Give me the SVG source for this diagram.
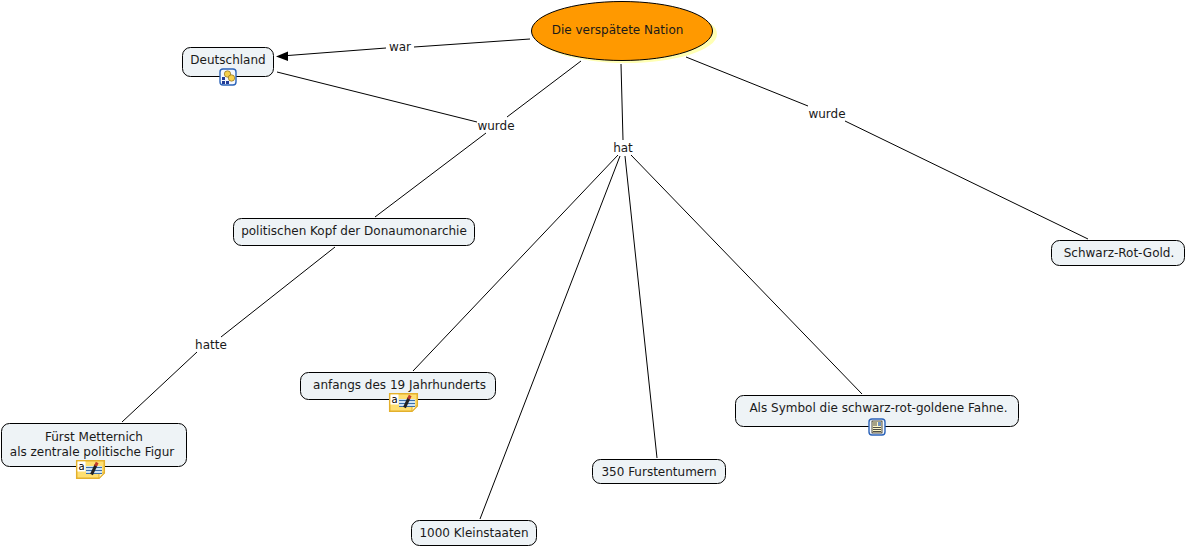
<svg xmlns="http://www.w3.org/2000/svg" width="1186" height="547" viewBox="0 0 1186 547">
<style>
text{font-family:"DejaVu Sans",Verdana,sans-serif;font-size:12px;fill:#1a1a1a;text-anchor:middle}
.box{fill:#eef3f6;stroke:#000;stroke-width:1}
.c line{stroke:#000;stroke-width:1}
.note{fill:#ffdf70;stroke:#e3b02c;stroke-width:1.500}
.blue{fill:#f4f8fd;stroke:#2a62b8;stroke-width:1.400}
</style>
<defs>
<g id="noteIcon">
<path class="note" d="M.7.7H28.300V13L23 18.300H.7Z"/>
<path d="M23 18.300V13H28.300Z" fill="#fff3c4" stroke="#e3b02c"/>
<rect x="1.500" y="1.500" width="8" height="10" fill="#fff"/>
<text x="5.500" y="9.500" style="font-size:10px;fill:#000">a</text>
<rect x="10" y="6" width="16" height="8" fill="#cfe3f5"/>
<path d="M10 7.500H26M10 10.500H26M10 13.500H26" stroke="#3c6fa8"/>
<path d="M15.500 14.500L20 5" stroke="#222" stroke-width="3"/>
<path d="M19.600 5.800L21.200 2.500" stroke="#c0392b" stroke-width="3"/>
</g>
</defs>
<g class="c" id="connectors">
<line x1="530" y1="39" x2="414" y2="47"/>
<line x1="386" y1="48" x2="288" y2="55.500"/>
<path d="M276 56.500L288 51.500V61Z" fill="#000"/>
<line x1="581" y1="61" x2="507" y2="117"/>
<line x1="277" y1="72" x2="477" y2="122"/>
<line x1="486" y1="133" x2="375" y2="217"/>
<line x1="335" y1="247" x2="221" y2="337"/>
<line x1="197" y1="352" x2="122" y2="422"/>
<line x1="621" y1="64" x2="623" y2="140"/>
<line x1="686" y1="57" x2="808" y2="106"/>
<line x1="845" y1="121" x2="1088" y2="239"/>
<line x1="618" y1="155" x2="413" y2="371"/>
<line x1="620" y1="156" x2="480" y2="519"/>
<line x1="625" y1="156" x2="657" y2="458"/>
<line x1="631" y1="155" x2="862" y2="394"/>
</g>
<g id="n-nation">
<ellipse cx="626" cy="34" rx="91" ry="29" fill="#ffffb4"/>
<ellipse cx="622" cy="31" rx="90.500" ry="29.500" fill="#ff9900" stroke="#000"/>
<text x="617.500" y="34">Die verspätete Nation</text>
</g>
<g id="n-deutschland">
<rect class="box" x="182.500" y="47.500" width="91" height="29" rx="8"/>
<text x="228" y="64">Deutschland</text>
<rect class="blue" x="220" y="69" width="16" height="16" rx="3"/>
<circle cx="227.500" cy="74" r="3.200" fill="#f6cf4a" stroke="#7a5c10" stroke-width=".6"/>
<circle cx="231.500" cy="78" r="3.200" fill="#f6cf4a" stroke="#7a5c10" stroke-width=".6"/>
<rect x="222" y="77" width="3" height="3" fill="#223c96"/>
<rect x="222" y="81" width="3" height="3" fill="#223c96"/>
<rect x="226" y="81" width="3" height="3" fill="#223c96"/>
</g>
<g id="n-kopf">
<rect class="box" x="233.500" y="218.500" width="241" height="27" rx="8"/>
<text x="354" y="235">politischen Kopf der Donaumonarchie</text>
</g>
<g id="n-metternich">
<rect class="box" x="1.500" y="423.500" width="185" height="43" rx="8"/>
<text x="94" y="441">Fürst Metternich</text>
<text x="92" y="456">als zentrale politische Figur</text>
<use href="#noteIcon" x="76" y="460"/>
</g>
<g id="n-anfangs">
<rect class="box" x="300.500" y="372.500" width="195" height="27" rx="8"/>
<text x="399.500" y="389">anfangs des 19 Jahrhunderts</text>
<use href="#noteIcon" x="389" y="393"/>
</g>
<g id="n-klein">
<rect class="box" x="411.500" y="520.500" width="125" height="25" rx="8"/>
<text x="474" y="537">1000 Kleinstaaten</text>
</g>
<g id="n-fuersten">
<rect class="box" x="592.500" y="459.500" width="133" height="24" rx="8"/>
<text x="659" y="476">350 Furstentumern</text>
</g>
<g id="n-symbol">
<rect class="box" x="735.500" y="395.500" width="283" height="31" rx="8"/>
<text x="878.500" y="412">Als Symbol die schwarz-rot-goldene Fahne.</text>
<rect class="blue" x="869" y="419" width="16" height="16" rx="3"/>
<rect x="872" y="421" width="10" height="12" fill="#fdf6c8" stroke="#222" stroke-width=".8"/>
<path d="M873 427.500H881M873 429.500H881M873 431.500H881" stroke="#222" stroke-width=".8"/>
<path d="M873 423H877M873 425H877" stroke="#222" stroke-width=".8"/>
<rect x="878" y="422" width="3" height="4" fill="#6c8fc0"/>
</g>
<g id="n-gold">
<rect class="box" x="1051.500" y="240.500" width="133" height="25" rx="8"/>
<text x="1119" y="257">Schwarz-Rot-Gold.</text>
</g>
<g id="link-labels">
<text x="400" y="51">war</text>
<text x="496" y="130">wurde</text>
<text x="623" y="152">hat</text>
<text x="827" y="118">wurde</text>
<text x="211" y="349">hatte</text>
</g>
</svg>
